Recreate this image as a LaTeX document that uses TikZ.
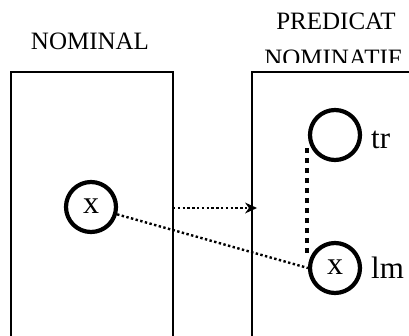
\documentclass[tikz,border=0pt]{standalone}
\usepackage{fontspec}
\setmainfont{Liberation Serif}
\usetikzlibrary{arrows.meta}
\begin{document}
\begin{tikzpicture}[x=1pt,y=-1pt,
  title/.style={font=\fontsize{25}{28}\selectfont, inner sep=0pt, anchor=base},
  ent/.style={circle, draw, line width=4.2pt, minimum size=50pt, inner sep=0pt, font=\fontsize{32}{34}\selectfont},
  lab/.style={font=\fontsize{31}{32}\selectfont, inner sep=0pt, anchor=base west},
  box/.style={line width=2.2pt},
  thin dots/.style={line width=2.4pt, dash pattern=on 2.4pt off 2.4pt},
  thick dots/.style={line width=4.5pt, dash pattern=on 4.5pt off 5.5pt}]
\useasboundingbox (0,0) rectangle (409,335);
\clip (0,0) rectangle (409,335);
% titles
\node[title] (tnom) at (90,49.5) {NOMINAL};
\node[title] (tpred) at (336,29) {PREDICAT};
\begin{scope}
  \clip (230,0) rectangle (409,62);
  \node[title] (tnomf) at (333,66) {NOMINATIF};
\end{scope}
% boxes
\draw[box] (11,345) -- (11,72) -- (173,72) -- (173,345);
\draw[box] (252,345) -- (252,72) -- (420,72);
% entities
\node[ent] (x1) at (91,207) {\raisebox{2pt}{x}};
\node[ent] (tr) at (335,135) {};
\node[ent] (lm) at (335,268) {\raisebox{2pt}{x}};
\node[lab] (trl) at (371,148) {tr};
\node[lab] (lml) at (371,278) {lm};
% connectors
\coordinate (a1) at (173,208);
\coordinate (a2) at (257,208);
\draw[thin dots, -{Stealth[length=12pt,width=11pt,line width=0pt]}] (a1) -- (a2);
\draw[thin dots] (x1) -- (lm.west);
\draw[thick dots, shorten <=13pt, shorten >=13pt] ([xshift=-1pt]tr.west) -- ([xshift=-1pt]lm.west);
\end{tikzpicture}
\end{document}
